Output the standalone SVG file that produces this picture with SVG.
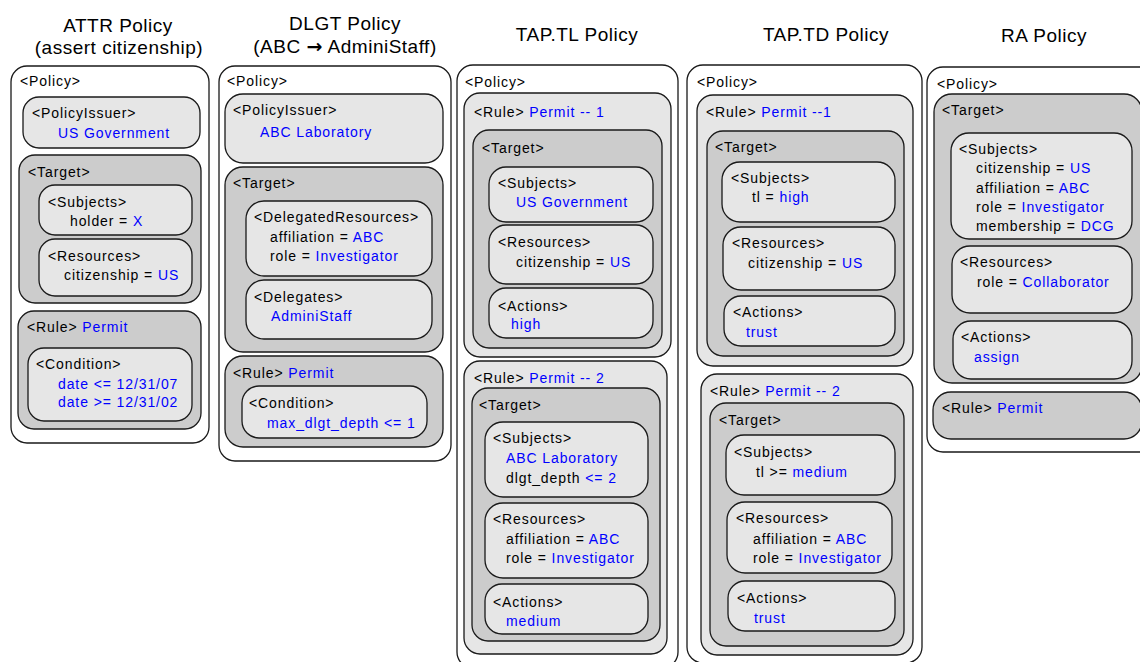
<svg xmlns="http://www.w3.org/2000/svg" width="1140" height="662" viewBox="0 0 1140 662">
<style>
text{font-family:"Liberation Sans",Arial,Helvetica,sans-serif;font-size:14px;letter-spacing:0.9px;fill:#000}
.b{fill:#0000ff}
.ti{font-size:19px;letter-spacing:0.5px;text-anchor:middle}
.ar{font-family:"DejaVu Sans",sans-serif;font-weight:bold}
rect{stroke:#1a1a1a;stroke-width:1.3}
.p{fill:#ffffff}
.l{fill:#e6e6e6}
.d{fill:#cccccc}
</style>

<g id="titles">
<text class="ti" x="118" y="32">ATTR Policy</text>
<text class="ti" x="119" y="54">(assert citizenship)</text>
<text class="ti" x="345" y="30">DLGT Policy</text>
<text class="ti" x="345" y="53">(ABC <tspan class="ar">→</tspan> AdminiStaff)</text>
<text class="ti" x="577" y="41">TAP.TL Policy</text>
<text class="ti" x="826" y="41">TAP.TD Policy</text>
<text class="ti" x="1044" y="42">RA Policy</text>
</g>

<!-- ATTR Policy -->
<g id="attr-policy">
<rect class="p" x="11" y="66" width="198" height="377" rx="16"/>
<text x="20" y="86">&lt;Policy&gt;</text>
<g id="attr-issuer">
<rect class="l" x="23" y="97" width="177" height="51" rx="16"/>
<text x="32" y="118">&lt;PolicyIssuer&gt;</text>
<text class="b" x="58" y="138">US Government</text>
</g>
<g id="attr-target">
<rect class="d" x="19" y="155" width="182" height="148" rx="16"/>
<text x="28" y="177">&lt;Target&gt;</text>
<g id="attr-subjects">
<rect class="l" x="39" y="185" width="153" height="50" rx="16"/>
<text x="48" y="207">&lt;Subjects&gt;</text>
<text x="70" y="226">holder = <tspan class="b">X</tspan></text>
</g>
<g id="attr-resources">
<rect class="l" x="39" y="239" width="153" height="57" rx="16"/>
<text x="48" y="261">&lt;Resources&gt;</text>
<text x="64" y="280">citizenship = <tspan class="b">US</tspan></text>
</g>
</g>
<g id="attr-rule">
<rect class="d" x="18" y="311" width="183" height="118" rx="16"/>
<text x="27" y="332">&lt;Rule&gt; <tspan class="b">Permit</tspan></text>
<g id="attr-condition">
<rect class="l" x="28" y="348" width="164" height="73" rx="16"/>
<text x="36" y="369">&lt;Condition&gt;</text>
<text class="b" x="58" y="389">date &lt;= 12/31/07</text>
<text class="b" x="58" y="407">date &gt;= 12/31/02</text>
</g>
</g>
</g>

<!-- DLGT Policy -->
<g id="dlgt-policy">
<rect class="p" x="219" y="66" width="232" height="395" rx="16"/>
<text x="227" y="86">&lt;Policy&gt;</text>
<g id="dlgt-issuer">
<rect class="l" x="225" y="94" width="218" height="69" rx="18"/>
<text x="233" y="115">&lt;PolicyIssuer&gt;</text>
<text class="b" x="260" y="137">ABC Laboratory</text>
</g>
<g id="dlgt-target">
<rect class="d" x="225" y="167" width="218" height="185" rx="18"/>
<text x="233" y="188">&lt;Target&gt;</text>
<g id="dlgt-delegatedresources">
<rect class="l" x="246" y="201" width="186" height="75" rx="18"/>
<text x="254" y="222">&lt;DelegatedResources&gt;</text>
<text x="270" y="242">affiliation = <tspan class="b">ABC</tspan></text>
<text x="270" y="261">role = <tspan class="b">Investigator</tspan></text>
</g>
<g id="dlgt-delegates">
<rect class="l" x="246" y="280" width="186" height="59" rx="18"/>
<text x="254" y="302">&lt;Delegates&gt;</text>
<text class="b" x="271" y="321">AdminiStaff</text>
</g>
</g>
<g id="dlgt-rule">
<rect class="d" x="225" y="356" width="218" height="91" rx="18"/>
<text x="233" y="378">&lt;Rule&gt; <tspan class="b">Permit</tspan></text>
<g id="dlgt-condition">
<rect class="l" x="242" y="386" width="185" height="52" rx="17"/>
<text x="249" y="408">&lt;Condition&gt;</text>
<text class="b" x="267" y="428">max_dlgt_depth &lt;= 1</text>
</g>
</g>
</g>

<!-- TAP.TL Policy -->
<g id="taptl-policy">
<rect class="p" x="457" y="65" width="221" height="603" rx="16"/>
<text x="465" y="87">&lt;Policy&gt;</text>
<g id="taptl-rule1">
<rect class="l" x="464" y="93" width="207" height="264" rx="16"/>
<text x="474" y="117">&lt;Rule&gt; <tspan class="b">Permit -- 1</tspan></text>
<g id="taptl-target1">
<rect class="d" x="473" y="130" width="189" height="218" rx="16"/>
<text x="482" y="153">&lt;Target&gt;</text>
<g id="taptl-subjects1">
<rect class="l" x="489" y="167" width="164" height="55" rx="17"/>
<text x="498" y="188">&lt;Subjects&gt;</text>
<text class="b" x="516" y="207">US Government</text>
</g>
<g id="taptl-resources1">
<rect class="l" x="489" y="225" width="164" height="59" rx="17"/>
<text x="498" y="247">&lt;Resources&gt;</text>
<text x="516" y="267">citizenship = <tspan class="b">US</tspan></text>
</g>
<g id="taptl-actions1">
<rect class="l" x="489" y="288" width="164" height="50" rx="17"/>
<text x="498" y="311">&lt;Actions&gt;</text>
<text class="b" x="511" y="329">high</text>
</g>
</g>
</g>
<g id="taptl-rule2">
<rect class="l" x="464" y="361" width="203" height="293" rx="16"/>
<text x="474" y="383">&lt;Rule&gt; <tspan class="b">Permit -- 2</tspan></text>
<g id="taptl-target2">
<rect class="d" x="472" y="388" width="188" height="253" rx="16"/>
<text x="479" y="410">&lt;Target&gt;</text>
<g id="taptl-subjects2">
<rect class="l" x="485" y="422" width="163" height="75" rx="18"/>
<text x="493" y="443">&lt;Subjects&gt;</text>
<text class="b" x="506" y="463">ABC Laboratory</text>
<text x="506" y="483">dlgt_depth <tspan class="b">&lt;= 2</tspan></text>
</g>
<g id="taptl-resources2">
<rect class="l" x="485" y="503" width="163" height="75" rx="18"/>
<text x="493" y="524">&lt;Resources&gt;</text>
<text x="506" y="544">affiliation = <tspan class="b">ABC</tspan></text>
<text x="506" y="563">role = <tspan class="b">Investigator</tspan></text>
</g>
<g id="taptl-actions2">
<rect class="l" x="485" y="584" width="163" height="50" rx="17"/>
<text x="493" y="607">&lt;Actions&gt;</text>
<text class="b" x="506" y="626">medium</text>
</g>
</g>
</g>
</g>

<!-- TAP.TD Policy -->
<g id="taptd-policy">
<rect class="p" x="687" y="65" width="235" height="598" rx="16"/>
<text x="697" y="87">&lt;Policy&gt;</text>
<g id="taptd-rule1">
<rect class="l" x="697" y="95" width="216" height="271" rx="16"/>
<text x="706" y="117">&lt;Rule&gt; <tspan class="b">Permit --1</tspan></text>
<g id="taptd-target1">
<rect class="d" x="707" y="131" width="197" height="225" rx="16"/>
<text x="715" y="152">&lt;Target&gt;</text>
<g id="taptd-subjects1">
<rect class="l" x="722" y="162" width="173" height="60" rx="18"/>
<text x="731" y="183">&lt;Subjects&gt;</text>
<text x="752" y="202">tl = <tspan class="b">high</tspan></text>
</g>
<g id="taptd-resources1">
<rect class="l" x="723" y="227" width="172" height="63" rx="18"/>
<text x="732" y="248">&lt;Resources&gt;</text>
<text x="748" y="268">citizenship = <tspan class="b">US</tspan></text>
</g>
<g id="taptd-actions1">
<rect class="l" x="724" y="296" width="171" height="50" rx="17"/>
<text x="733" y="317">&lt;Actions&gt;</text>
<text class="b" x="746" y="337">trust</text>
</g>
</g>
</g>
<g id="taptd-rule2">
<rect class="l" x="701" y="374" width="212" height="281" rx="16"/>
<text x="710" y="396">&lt;Rule&gt; <tspan class="b">Permit -- 2</tspan></text>
<g id="taptd-target2">
<rect class="d" x="710" y="403" width="194" height="243" rx="16"/>
<text x="719" y="425">&lt;Target&gt;</text>
<g id="taptd-subjects2">
<rect class="l" x="726" y="435" width="169" height="60" rx="18"/>
<text x="734" y="457">&lt;Subjects&gt;</text>
<text x="756" y="477">tl &gt;= <tspan class="b">medium</tspan></text>
</g>
<g id="taptd-resources2">
<rect class="l" x="727" y="502" width="165" height="71" rx="18"/>
<text x="736" y="523">&lt;Resources&gt;</text>
<text x="753" y="544">affiliation = <tspan class="b">ABC</tspan></text>
<text x="753" y="563">role = <tspan class="b">Investigator</tspan></text>
</g>
<g id="taptd-actions2">
<rect class="l" x="728" y="581" width="167" height="50" rx="17"/>
<text x="737" y="603">&lt;Actions&gt;</text>
<text class="b" x="754" y="623">trust</text>
</g>
</g>
</g>
</g>

<!-- RA Policy -->
<g id="ra-policy">
<rect class="p" x="927" y="67" width="230" height="385" rx="16"/>
<text x="937" y="89">&lt;Policy&gt;</text>
<g id="ra-target">
<rect class="d" x="934" y="94" width="208" height="289" rx="18"/>
<text x="942" y="115">&lt;Target&gt;</text>
<g id="ra-subjects">
<rect class="l" x="951" y="133" width="181" height="106" rx="18"/>
<text x="959" y="154">&lt;Subjects&gt;</text>
<text x="976" y="173">citizenship = <tspan class="b">US</tspan></text>
<text x="976" y="193">affiliation = <tspan class="b">ABC</tspan></text>
<text x="976" y="212">role = <tspan class="b">Investigator</tspan></text>
<text x="976" y="231">membership = <tspan class="b">DCG</tspan></text>
</g>
<g id="ra-resources">
<rect class="l" x="952" y="246" width="180" height="67" rx="18"/>
<text x="960" y="267">&lt;Resources&gt;</text>
<text x="977" y="287">role = <tspan class="b">Collaborator</tspan></text>
</g>
<g id="ra-actions">
<rect class="l" x="953" y="321" width="179" height="58" rx="18"/>
<text x="961" y="342">&lt;Actions&gt;</text>
<text class="b" x="974" y="362">assign</text>
</g>
</g>
<g id="ra-rule">
<rect class="d" x="933" y="392" width="209" height="47" rx="18"/>
<text x="942" y="413">&lt;Rule&gt; <tspan class="b">Permit</tspan></text>
</g>
</g>
</svg>
